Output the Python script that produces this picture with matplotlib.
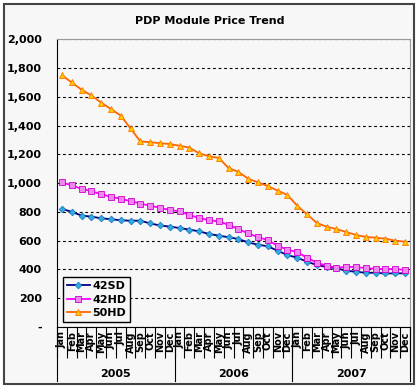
import matplotlib
matplotlib.use("Agg")
import matplotlib.pyplot as plt
import numpy as np
from matplotlib.patches import Rectangle

months = ["Jan", "Feb", "Mar", "Apr", "May", "Jun", "Jul", "Aug", "Sep", "Oct", "Nov", "Dec"]
years = ["2005", "2006", "2007"]
series_names = ["42SD", "42HD", "50HD"]

s42sd = [822, 800, 775, 767, 756, 749, 742, 739, 739, 720, 706, 698,
         688, 677, 665, 647, 635, 624, 612, 588, 572, 561, 530, 500,
         482, 454, 431, 417, 408, 391, 384, 377, 377, 372, 373, 373]
s42hd = [1005, 985, 960, 945, 922, 906, 891, 875, 858, 843, 829, 813,
         805, 778, 758, 742, 735, 710, 681, 650, 625, 604, 565, 538,
         520, 482, 447, 426, 412, 418, 417, 409, 405, 401, 405, 395]
s50hd = [1750, 1700, 1650, 1610, 1560, 1515, 1470, 1380, 1290, 1285, 1278, 1272,
         1260, 1247, 1207, 1187, 1175, 1105, 1078, 1031, 1005, 980, 948, 918,
         843, 783, 723, 697, 681, 660, 640, 626, 621, 614, 600, 593]

yticks = [0, 200, 400, 600, 800, 1000, 1200, 1400, 1600, 1800, 2000]
ytick_labels = ["-", "200", "400", "600", "800", "1,000", "1,200", "1,400", "1,600", "1,800", "2,000"]

W, H = 420, 388
fig = plt.figure(figsize=(W / 100, H / 100), dpi=100, facecolor="white")
bg = "#f7f7f7"
fig.patches.append(Rectangle((4 / W, 4 / H), 410 / W, 380 / H, transform=fig.transFigure,
                             facecolor=bg, edgecolor="#444444", linewidth=1.5, zorder=-10))

ax = fig.add_axes([57 / W, 61 / H, 353 / W, 287.7 / H])
ax.set_zorder(1)
ax.set_facecolor(bg)

n = len(s42sd)
x = np.arange(n)
ax.plot(x, s42sd, color="#000080", lw=1.3, marker="D", ms=3.4, mfc="#33aadd", mec="#1070c0", mew=0.5, label=series_names[0], zorder=3)
ax.plot(x, s42hd, color="#ff00ff", lw=1.3, marker="s", ms=4.0, mfc="#ee88ee", mec="#cc00cc", mew=0.6, label=series_names[1], zorder=3)
ax.plot(x, s50hd, color="#ff6600", lw=1.3, marker="^", ms=4.6, mfc="#ffcc00", mec="#ff7700", mew=0.6, label=series_names[2], zorder=3)

ax.set_xlim(-0.5, n - 0.5)
ax.set_ylim(0, 2000)
ax.set_yticks(yticks)
ax.set_yticklabels(ytick_labels, fontsize=8, fontweight="bold")
ax.tick_params(axis="y", length=0, pad=11)
ax.yaxis.grid(True, color="black", linestyle=(0, (2.5, 2.5)), linewidth=0.8)
ax.set_axisbelow(True)

labels = [m for _ in years for m in months]
ax.set_xticks(x)
ax.set_xticklabels(labels, rotation=90, fontsize=7, fontweight="bold", va="top")
ax.tick_params(axis="x", which="major", length=0, pad=3)
ax.set_xticks(np.arange(-0.5, n, 1), minor=True)
ax.tick_params(axis="x", which="minor", length=22, width=0.8, color="black")

tr = ax.get_xaxis_transform()
for b in [-0.5, 11.5, 23.5, 35.5]:
    ax.plot([b, b], [0, -54 / 287.7], transform=tr, color="black", lw=0.8, clip_on=False)
for i, yr in enumerate(years):
    ax.text(i * 12 + 5.5, -47 / 287.7, yr, transform=tr, ha="center", va="center",
            fontsize=8, fontweight="bold")

for side in ["top", "right"]:
    ax.spines[side].set_color("#999999")
ax.spines["left"].set_color("black")
ax.spines["bottom"].set_color("black")

fig.text(210 / W, 1 - 21 / H, "PDP Module Price Trend", ha="center", va="center",
         fontsize=8, fontweight="bold")

leg = ax.legend(loc="lower left", bbox_to_anchor=(0.016, 0.018), borderaxespad=0,
                fancybox=False, framealpha=1, facecolor=bg, edgecolor="black",
                prop={"weight": "bold", "size": 8}, handlelength=2.1,
                labelspacing=0.3, borderpad=0.35, handletextpad=0.2)
leg.get_frame().set_linewidth(1.0)

fig.savefig("out.png", dpi=100, facecolor="white")
